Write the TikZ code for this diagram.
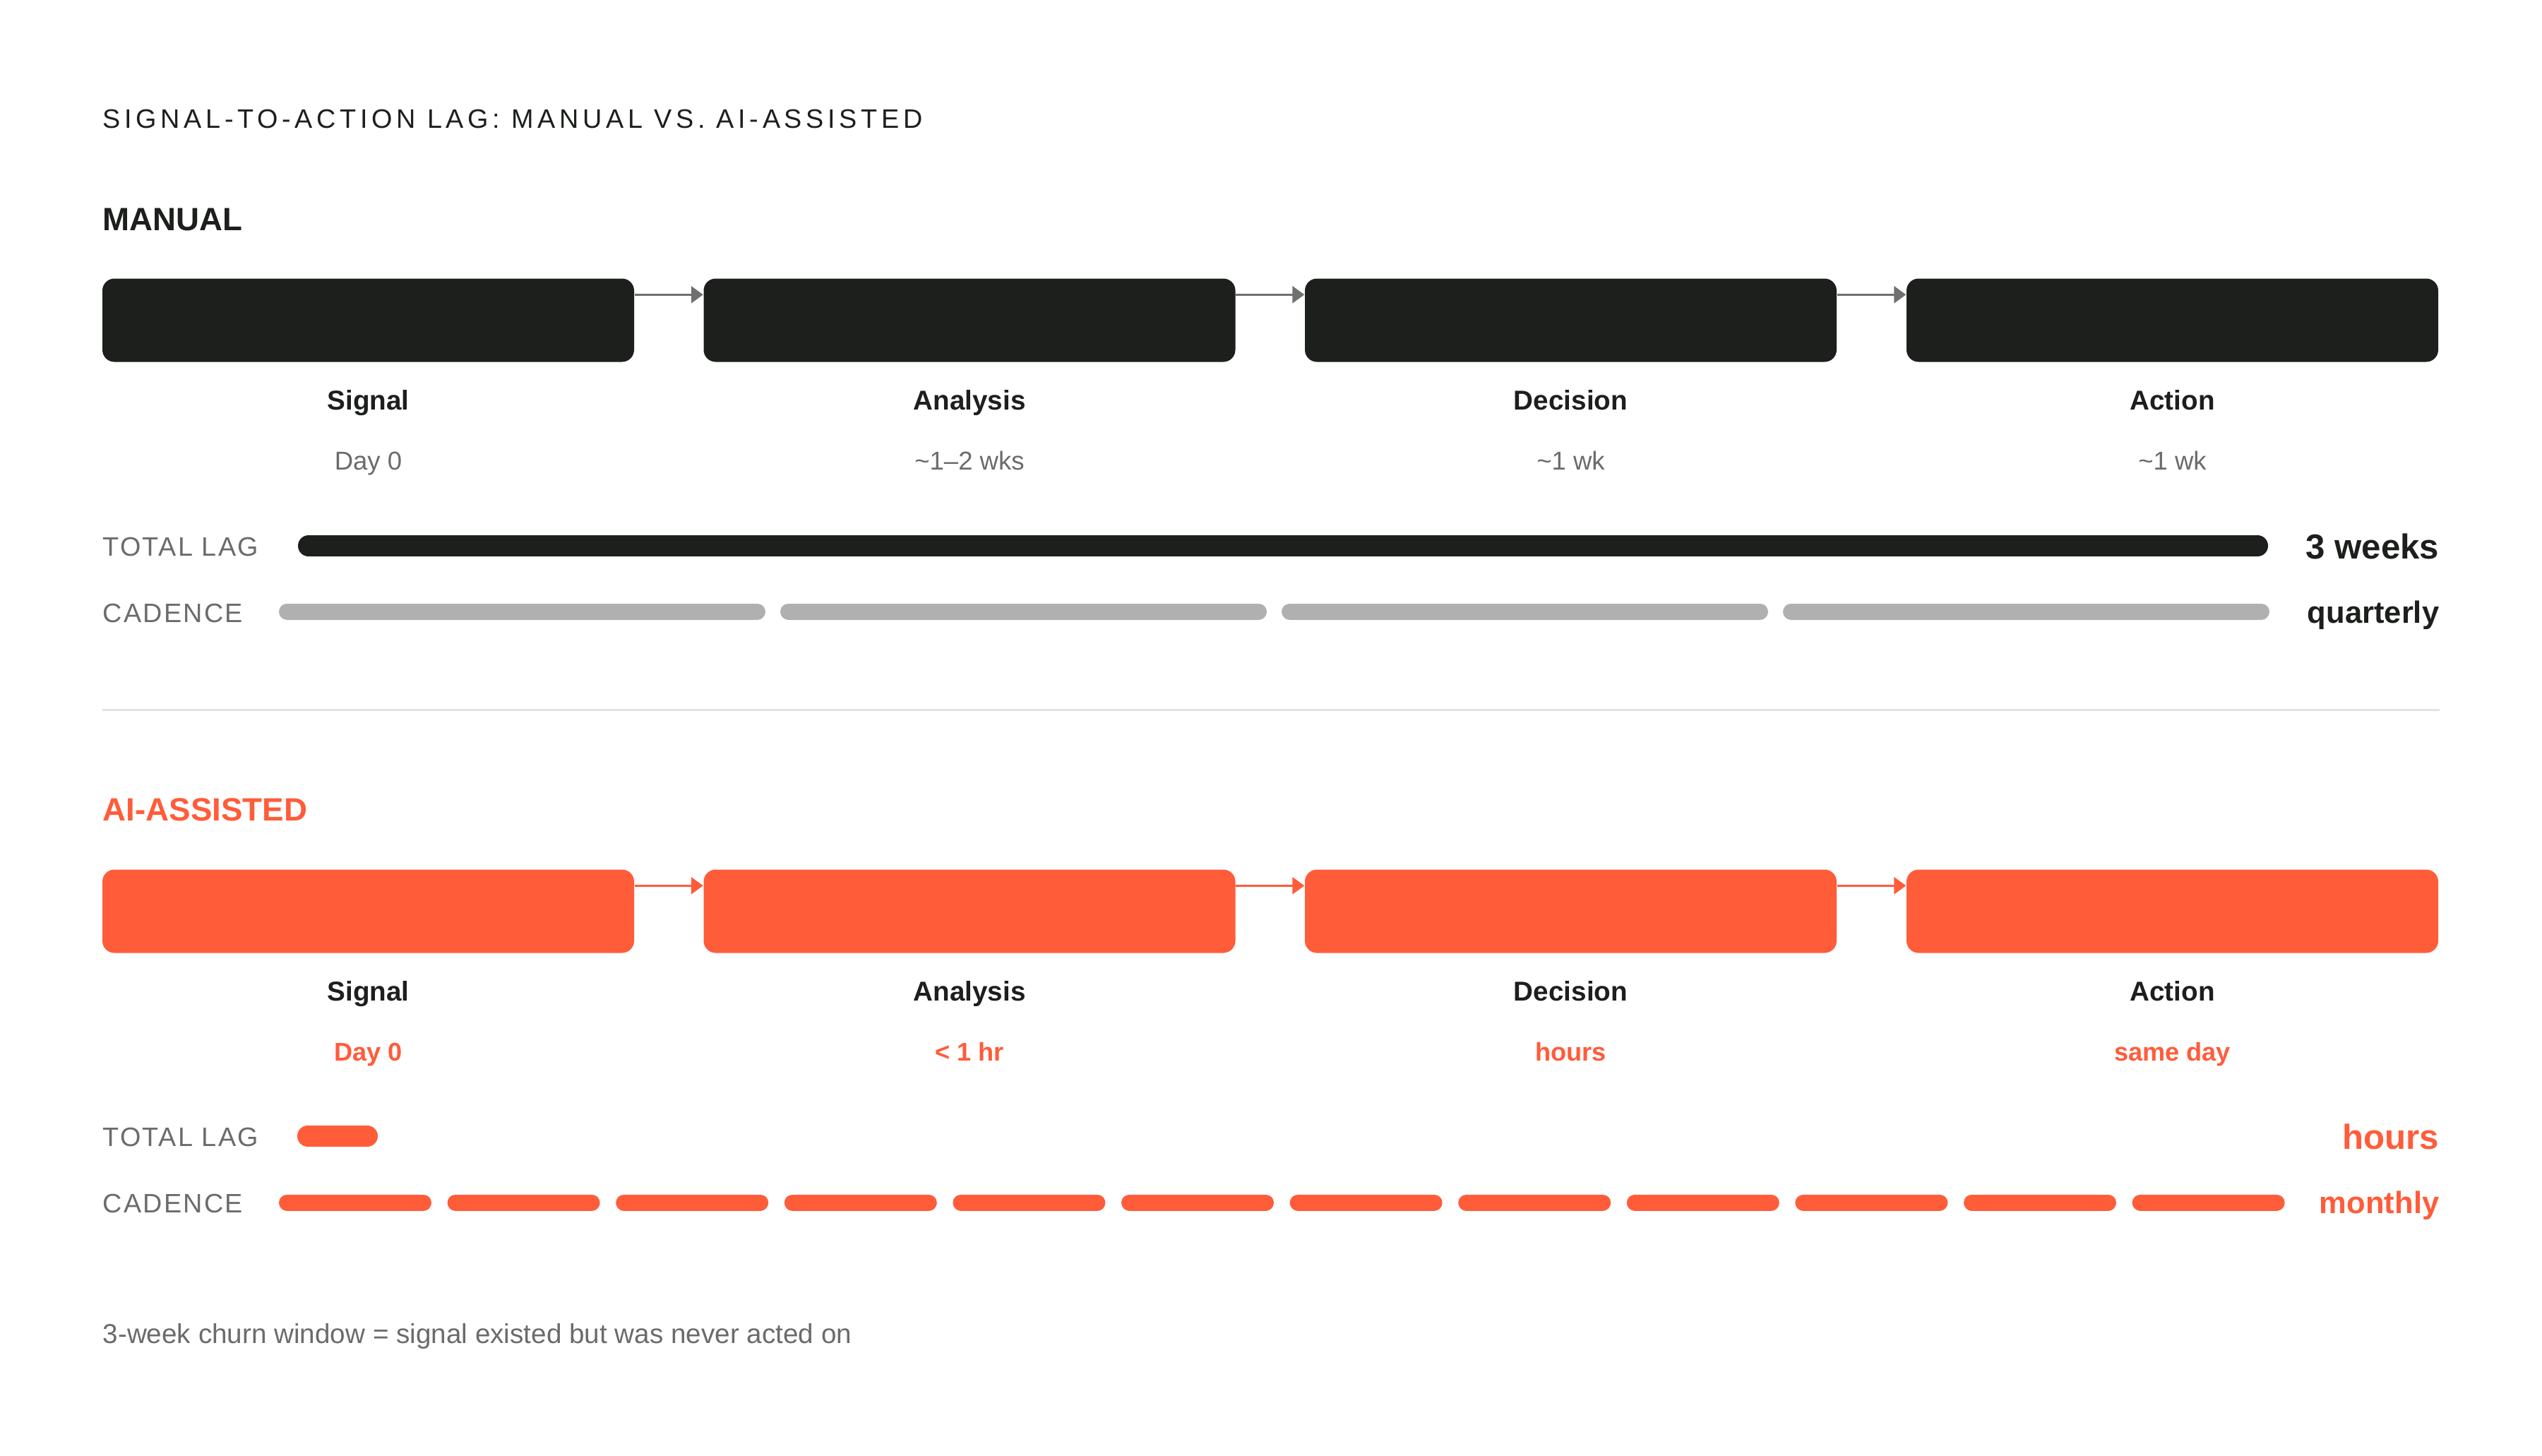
\documentclass[tikz,border=0pt]{standalone}
\usepackage{fontspec}
\setmainfont{Liberation Sans}
\newfontfamily\titlefont[LetterSpace=15]{Liberation Sans}
\newfontfamily\labelfont[LetterSpace=6]{Liberation Sans}
\usetikzlibrary{arrows.meta}
\definecolor{inkblack}{HTML}{1C1F1C}
\definecolor{accent}{HTML}{FF5C3A}
\definecolor{cadgrey}{HTML}{B0B0B0}
\definecolor{textgrey}{HTML}{6B6B6B}
\definecolor{arrowgrey}{HTML}{707070}
\definecolor{rulegrey}{HTML}{E2E2E2}
\tikzset{
  stagebox/.style={rounded corners=0.17cm, minimum width=7.53cm, minimum height=1.18cm, inner sep=0pt},
  mbox/.style={stagebox, fill=inkblack},
  abox/.style={stagebox, fill=accent},
  flow/.style={-{Triangle[length=0.17cm,width=0.24cm]}, line width=0.03cm},
  stagename/.style={anchor=base, inner sep=0pt, text=inkblack, font=\fontsize{11}{13}\selectfont\bfseries},
  stagetime/.style={anchor=base, inner sep=0pt, text=textgrey, font=\fontsize{10.4}{12}\selectfont},
  fasttime/.style={anchor=base, inner sep=0pt, text=accent, font=\fontsize{10.3}{12}\selectfont\bfseries},
  rowlabel/.style={anchor=base west, inner sep=0pt, text=textgrey, font=\fontsize{10.75}{13}\labelfont},
  heading/.style={anchor=base west, inner sep=0pt, font=\fontsize{13}{15}\selectfont\bfseries},
  bigvalue/.style={anchor=base east, inner sep=0pt, font=\fontsize{14}{16}\selectfont\bfseries},
  smallvalue/.style={anchor=base east, inner sep=0pt, font=\fontsize{12.4}{14}\selectfont\bfseries},
  lagbar/.style={line width=0.30cm, line cap=round},
  cadbar/.style={line width=0.23cm, line cap=round}
}
\begin{document}
\begin{tikzpicture}[y=-1cm]
  \useasboundingbox (0,0) rectangle (36,20.61);
  % title
  \node [anchor=base west, inner sep=0pt, text=inkblack, font=\fontsize{10.75}{13}\titlefont] (title) at (1.45,1.81) {SIGNAL-TO-ACTION LAG: MANUAL VS. AI-ASSISTED};

  % manual row
  \node [heading, text=inkblack] (mHead) at (1.45,3.26) {MANUAL};
  \node [mbox] (mSignal) at (5.215,4.535) {};
  \node [mbox] (mAnalysis) at (13.73,4.535) {};
  \node [mbox] (mDecision) at (22.245,4.535) {};
  \node [mbox] (mAction) at (30.765,4.535) {};
  \draw [flow, arrowgrey] ([yshift=-0.235cm]mSignal.north east) -- ([yshift=-0.235cm]mAnalysis.north west);
  \draw [flow, arrowgrey] ([yshift=-0.235cm]mAnalysis.north east) -- ([yshift=-0.235cm]mDecision.north west);
  \draw [flow, arrowgrey] ([yshift=-0.235cm]mDecision.north east) -- ([yshift=-0.235cm]mAction.north west);
  \node [stagename] (mSignalName) at (5.215,5.80) {Signal};
  \node [stagename] (mAnalysisName) at (13.73,5.80) {Analysis};
  \node [stagename] (mDecisionName) at (22.245,5.80) {Decision};
  \node [stagename] (mActionName) at (30.765,5.80) {Action};
  \node [stagetime] (mSignalTime) at (5.215,6.65) {Day 0};
  \node [stagetime] (mAnalysisTime) at (13.73,6.65) {\textasciitilde1–2 wks};
  \node [stagetime] (mDecisionTime) at (22.245,6.65) {\textasciitilde1 wk};
  \node [stagetime] (mActionTime) at (30.765,6.65) {\textasciitilde1 wk};
  \node [rowlabel] (mLagLabel) at (1.45,7.87) {TOTAL LAG};
  \draw [lagbar, inkblack] (4.37,7.73) -- (31.97,7.73);
  \node [bigvalue, text=inkblack] (mLag) at (34.55,7.91) {3 weeks};
  \node [rowlabel] (mCadLabel) at (1.45,8.81) {CADENCE};
  \foreach \i in {0,...,3}
    \draw [cadbar, cadgrey] ({3.95+7.10*\i+0.115},8.66) -- ({3.95+7.10*\i+6.89-0.115},8.66);
  \node [smallvalue, text=inkblack] (mCad) at (34.55,8.82) {quarterly};

  \draw [line width=0.03cm, rulegrey] (1.45,10.05) -- (34.55,10.05);

  % ai-assisted row
  \node [heading, text=accent] (aHead) at (1.45,11.62) {AI-ASSISTED};
  \node [abox] (aSignal) at (5.215,12.905) {};
  \node [abox] (aAnalysis) at (13.73,12.905) {};
  \node [abox] (aDecision) at (22.245,12.905) {};
  \node [abox] (aAction) at (30.765,12.905) {};
  \draw [flow, accent] ([yshift=-0.235cm]aSignal.north east) -- ([yshift=-0.235cm]aAnalysis.north west);
  \draw [flow, accent] ([yshift=-0.235cm]aAnalysis.north east) -- ([yshift=-0.235cm]aDecision.north west);
  \draw [flow, accent] ([yshift=-0.235cm]aDecision.north east) -- ([yshift=-0.235cm]aAction.north west);
  \node [stagename] (aSignalName) at (5.215,14.17) {Signal};
  \node [stagename] (aAnalysisName) at (13.73,14.17) {Analysis};
  \node [stagename] (aDecisionName) at (22.245,14.17) {Decision};
  \node [stagename] (aActionName) at (30.765,14.17) {Action};
  \node [fasttime] (aSignalTime) at (5.215,15.02) {Day 0};
  \node [fasttime] (aAnalysisTime) at (13.73,15.02) {< 1 hr};
  \node [fasttime] (aDecisionTime) at (22.245,15.02) {hours};
  \node [fasttime] (aActionTime) at (30.765,15.02) {same day};
  \node [rowlabel] (aLagLabel) at (1.45,16.23) {TOTAL LAG};
  \draw [lagbar, accent] (4.36,16.09) -- (5.20,16.09);
  \node [bigvalue, text=accent] (aLag) at (34.55,16.27) {hours};
  \node [rowlabel] (aCadLabel) at (1.45,17.17) {CADENCE};
  \foreach \i in {0,...,11}
    \draw [cadbar, accent] ({3.95+2.386*\i+0.115},17.03) -- ({3.95+2.386*\i+2.16-0.115},17.03);
  \node [smallvalue, text=accent] (aCad) at (34.55,17.18) {monthly};

  % footnote
  \node [anchor=base west, inner sep=0pt, text=textgrey, font=\fontsize{11}{13}\selectfont] (note) at (1.45,19.02) {3-week churn window = signal existed but was never acted on};
\end{tikzpicture}
\end{document}
